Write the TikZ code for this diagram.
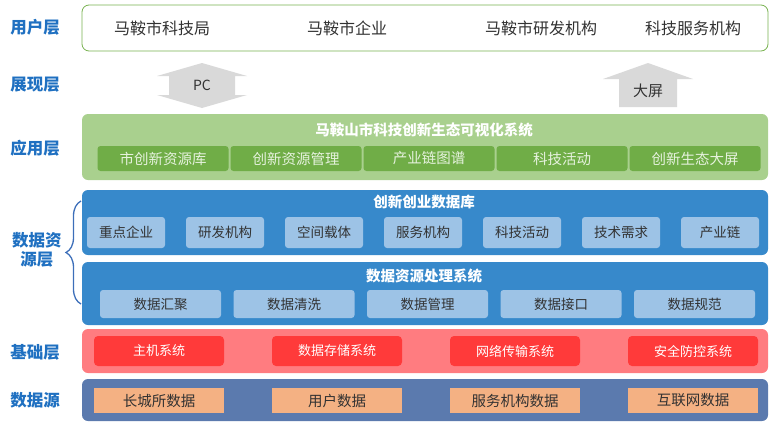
\documentclass[tikz,border=0pt]{standalone}
\usepackage{fontspec}
\usepackage{tikz}
\usetikzlibrary{decorations.pathreplacing}
\setmainfont{Noto Sans CJK SC}
\definecolor{labelBlue}{RGB}{31, 112, 193}
\definecolor{braceBlue}{RGB}{60, 110, 185}
\definecolor{userGreen}{RGB}{120, 178, 80}
\definecolor{appLight}{RGB}{169, 208, 142}
\definecolor{appDark}{RGB}{112, 173, 71}
\definecolor{appText}{RGB}{230, 242, 222}
\definecolor{dataBlue}{RGB}{55, 137, 203}
\definecolor{dataLight}{RGB}{157, 195, 230}
\definecolor{baseLight}{RGB}{255, 124, 128}
\definecolor{baseRed}{RGB}{255, 58, 58}
\definecolor{srcBlue}{RGB}{91, 122, 174}
\definecolor{srcOrange}{RGB}{244, 177, 131}
\definecolor{arrowGray}{RGB}{217, 217, 217}
\definecolor{textDark}{RGB}{50, 50, 50}

\begin{document}
\begin{tikzpicture}[x=1pt, y=-1pt,
    layer/.style={font=\fontsize{16.5}{19}\selectfont\bfseries, text=labelBlue, align=center},
    band/.style={rounded corners=6pt, draw=none},
    title/.style={font=\fontsize{14.5}{16}\selectfont\bfseries, text=white},
    appbox/.style={fill=appDark, rounded corners=3pt, minimum width=131pt, minimum height=25pt,
      text=appText, font=\fontsize{14.5}{16}\selectfont},
    dbbox/.style={fill=dataLight, rounded corners=3pt, minimum width=78pt, minimum height=31pt,
      text=textDark, font=\fontsize{13.5}{15}\selectfont},
    procbox/.style={fill=dataLight, rounded corners=3pt, minimum width=121pt, minimum height=28pt,
      text=textDark, font=\fontsize{13.5}{15}\selectfont},
    basebox/.style={fill=baseRed, rounded corners=4pt, minimum width=130pt, minimum height=30pt,
      text=white, font=\fontsize{13}{15}\selectfont},
    srcbox/.style={fill=srcOrange, minimum width=130pt, minimum height=25pt,
      text=textDark, font=\fontsize{14.5}{16}\selectfont}]
  \useasboundingbox (0,0) rectangle (774,429);

  % layer labels
  \node[layer] (lUser) at (35,27) {用户层};
  \node[layer] (lShow) at (35,85) {展现层};
  \node[layer] (lApp) at (35,148) {应用层};
  \node[layer] (lData) at (37,250) {数据资\\源层};
  \node[layer] (lBase) at (35,352) {基础层};
  \node[layer] (lSrc) at (35,400) {数据源};

  % user layer
  \draw[userGreen, thick, fill=white, rounded corners=7pt] (82,5) rectangle (768,51);
  \node[font=\fontsize{16}{18}\selectfont, text=textDark] (u1) at (162,28) {马鞍市科技局};
  \node[font=\fontsize{16}{18}\selectfont, text=textDark] (u2) at (347,28) {马鞍市企业};
  \node[font=\fontsize{16}{18}\selectfont, text=textDark] (u3) at (541,28) {马鞍市研发机构};
  \node[font=\fontsize{16}{18}\selectfont, text=textDark] (u4) at (693,28) {科技服务机构};

  % display layer arrows
  \fill[arrowGray] (202,63) -- (247,76) -- (235,76) -- (235,95) -- (247,95) -- (202,108)
    -- (157,95) -- (169,95) -- (169,76) -- (157,76) -- cycle;
  \node[font=\fontsize{14}{16}\selectfont, text=textDark] (pc) at (202,85.5) {PC};
  \fill[arrowGray] (648,63) -- (693,79) -- (677,79) -- (677,107) -- (619,107) -- (619,79)
    -- (603,79) -- cycle;
  \node[font=\fontsize{15}{17}\selectfont, text=textDark] (screen) at (648,91) {大屏};

  % application layer
  \fill[appLight, band] (82,114) rectangle (768,180);
  \node[title] (appTitle) at (424,130) {马鞍山市科技创新生态可视化系统};
  \foreach \txt [count=\i] in {市创新资源库, 创新资源管理, 产业链图谱, 科技活动, 创新生态大屏}
    \node[appbox] (app\i) at ({163+133*(\i-1)},158.5) {\txt};

  % data resource layer
  \fill[dataBlue, band] (82,190) rectangle (768,255);
  \node[title] (dbTitle) at (424,202) {创新创业数据库};
  \foreach \txt [count=\i] in {重点企业, 研发机构, 空间载体, 服务机构, 科技活动, 技术需求, 产业链}
    \node[dbbox] (db\i) at ({126+99*(\i-1)},232.5) {\txt};
  \fill[dataBlue, band] (82,262) rectangle (768,325);
  \node[title] (procTitle) at (424,276) {数据资源处理系统};
  \foreach \txt [count=\i] in {数据汇聚, 数据清洗, 数据管理, 数据接口, 数据规范}
    \node[procbox] (proc\i) at ({160.5+133.5*(\i-1)},304) {\txt};
  \draw[braceBlue, line width=1.3pt, decoration={brace, amplitude=15pt, aspect=0.5}, decorate]
    (81,304) -- (81,201);

  % base layer
  \fill[baseLight, band] (82,329) rectangle (768,373);
  \foreach \txt [count=\i] in {主机系统, 数据存储系统, 网络传输系统, 安全防控系统}
    \node[basebox] (base\i) at ({159+178*(\i-1)},351) {\txt};

  % data source layer
  \fill[srcBlue, band] (82,379) rectangle (768,421);
  \foreach \txt [count=\i] in {长城所数据, 用户数据, 服务机构数据, 互联网数据}
    \node[srcbox] (src\i) at ({159+178*(\i-1)},400.5) {\txt};
\end{tikzpicture}
\end{document}
